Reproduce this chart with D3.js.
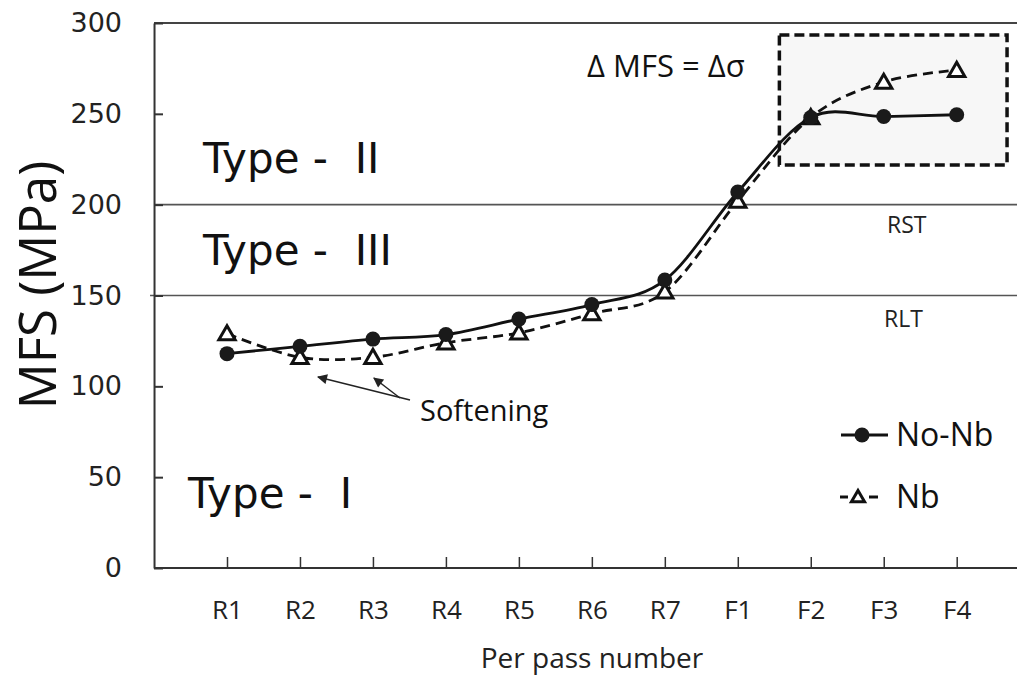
<!DOCTYPE html>
<html>
<head>
<meta charset="utf-8">
<script src="https://cdn.jsdelivr.net/npm/d3@7"></script>
<style>
  html, body { margin: 0; padding: 0; background: #fff; }
  svg { display: block; }
</style>
</head>
<body>
<svg id="chart" width="1017" height="682"></svg>
<script>
// Pass sequence: roughing (R) and finishing (F) passes
const categories = ["R1", "R2", "R3", "R4", "R5", "R6", "R7", "F1", "F2", "F3", "F4"];
// Mean flow stress per pass, MPa
const noNb = [118, 122, 126, 128.5, 137, 145, 158.5, 207, 248, 248.5, 249.5];
const nb   = [129, 116, 116, 124, 129.5, 140, 152, 202, 248, 267.5, 274];
const yTicks = [0, 50, 100, 150, 200, 250, 300];
// Critical temperatures as stress levels
const rlt = 150, rst = 200;

const svg = d3.select("#chart");
const W = 1017;

// Category positions sit one slot in from each plot edge
const x = d3.scalePoint().domain(categories).range([227, 956.7]);
const step = x.step();
const left = x("R1") - step;
const y = d3.scaleLinear().domain([0, 300]).range([568, 23]);

// Highlighted region around the finishing passes
const boxX0 = x("F2") - 0.43 * step, boxX1 = x("F4") + 0.69 * step;
const boxY0 = 293.4, boxY1 = 221.8;
svg.append("rect")
  .attr("x", boxX0).attr("y", y(boxY0))
  .attr("width", boxX1 - boxX0).attr("height", y(boxY1) - y(boxY0))
  .attr("fill", "#f7f7f7")
  .attr("stroke", "#111").attr("stroke-width", 3.5)
  .attr("stroke-dasharray", "10,5");

// Plot frame: top border
svg.append("line")
  .attr("x1", left).attr("x2", W).attr("y1", y(300)).attr("y2", y(300))
  .attr("stroke", "#444").attr("stroke-width", 2);

// Reference lines
svg.append("line")
  .attr("x1", left).attr("x2", W).attr("y1", y(rst)).attr("y2", y(rst))
  .attr("stroke", "#555").attr("stroke-width", 1.6);
svg.append("line")
  .attr("x1", left - 4).attr("x2", W).attr("y1", y(rlt)).attr("y2", y(rlt))
  .attr("stroke", "#555").attr("stroke-width", 1.6);

// Y axis
const yAxis = svg.append("g")
  .attr("transform", `translate(${left},0)`)
  .call(d3.axisLeft(y).tickValues(yTicks).tickSizeInner(-9).tickSizeOuter(0).tickPadding(32));
yAxis.select(".domain").attr("stroke", "#333").attr("stroke-width", 2);
yAxis.selectAll(".tick line").attr("stroke", "#333").attr("stroke-width", 2);
yAxis.selectAll(".tick text")
  .attr("font-family", "DejaVu Sans").attr("font-size", 27).attr("fill", "#222");

// X axis
const xAxis = svg.append("g")
  .attr("transform", `translate(0,${y(0)})`)
  .call(d3.axisBottom(x).tickSizeInner(-11).tickSizeOuter(0).tickPadding(33));
xAxis.select(".domain").attr("d", `M${left},0H${W}`).attr("stroke", "#333").attr("stroke-width", 2);
xAxis.selectAll(".tick line").attr("stroke", "#333").attr("stroke-width", 1.5);
xAxis.selectAll(".tick text")
  .attr("font-family", "Open Sans").attr("font-size", 26).attr("fill", "#222");

// Axis titles
svg.append("text")
  .attr("x", 592).attr("y", 668)
  .attr("text-anchor", "middle")
  .attr("font-family", "Open Sans").attr("font-size", 28).attr("fill", "#222")
  .text("Per pass number");
svg.append("text")
  .attr("transform", "translate(56,285) rotate(-90)")
  .attr("text-anchor", "middle")
  .attr("font-family", "Open Sans").attr("font-size", 51).attr("fill", "#111")
  .text("MFS (MPa)");

// Region labels
const typeLabels = [
  { t: "Type -  II", x: 203, y: 173 },
  { t: "Type -  III", x: 203, y: 265 },
  { t: "Type -  I", x: 188, y: 508 }
];
svg.selectAll("text.type").data(typeLabels).join("text")
  .attr("class", "type")
  .attr("x", d => d.x).attr("y", d => d.y)
  .attr("font-family", "DejaVu Sans").attr("font-size", 42).attr("fill", "#111")
  .style("white-space", "pre")
  .text(d => d.t);

svg.append("text")
  .attr("x", 887).attr("y", 233)
  .attr("font-family", "Open Sans").attr("font-size", 23).attr("fill", "#222")
  .text("RST");
svg.append("text")
  .attr("x", 884).attr("y", 327)
  .attr("font-family", "Open Sans").attr("font-size", 23).attr("fill", "#222")
  .text("RLT");

svg.append("text")
  .attr("x", 587).attr("y", 77)
  .attr("font-family", "Open Sans").attr("font-size", 31).attr("fill", "#111")
  .text("Δ MFS = Δσ");

// Softening annotation with arrows
const defs = svg.append("defs");
defs.append("marker")
  .attr("id", "arrow").attr("viewBox", "0 0 10 10")
  .attr("refX", 9).attr("refY", 5)
  .attr("markerWidth", 12).attr("markerHeight", 10)
  .attr("markerUnits", "userSpaceOnUse")
  .attr("orient", "auto")
  .append("path").attr("d", "M0,0L10,5L0,10Z").attr("fill", "#222");

const arrows = [
  { x1: 410, y1: 400, x2: x("R2") + 18, y2: 377 },
  { x1: 400, y1: 398, x2: x("R3") + 1, y2: 378 }
];
svg.selectAll("line.arrow").data(arrows).join("line")
  .attr("class", "arrow")
  .attr("x1", d => d.x1).attr("y1", d => d.y1)
  .attr("x2", d => d.x2).attr("y2", d => d.y2)
  .attr("stroke", "#222").attr("stroke-width", 1.5)
  .attr("marker-end", "url(#arrow)");
svg.append("text")
  .attr("x", 420).attr("y", 421)
  .attr("font-family", "Open Sans").attr("font-size", 29).attr("fill", "#111")
  .text("Softening");

// Series lines (smoothed)
const line = d3.line()
  .x((d, i) => x(categories[i]))
  .y(d => y(d))
  .curve(d3.curveCatmullRom.alpha(0));

svg.append("path").datum(nb)
  .attr("d", line)
  .attr("fill", "none").attr("stroke", "#111").attr("stroke-width", 2.8)
  .attr("stroke-dasharray", "10,6");

const tri = d3.symbol().type(d3.symbolTriangle).size(115);
svg.selectAll("path.nb").data(nb).join("path")
  .attr("class", "nb")
  .attr("transform", (d, i) => `translate(${x(categories[i])},${y(d) + 1.5})`)
  .attr("d", tri)
  .attr("fill", "#fff").attr("stroke", "#111").attr("stroke-width", 3);

svg.append("path").datum(noNb)
  .attr("d", line)
  .attr("fill", "none").attr("stroke", "#111").attr("stroke-width", 2.8);

svg.selectAll("circle.nonb").data(noNb).join("circle")
  .attr("class", "nonb")
  .attr("cx", (d, i) => x(categories[i]))
  .attr("cy", d => y(d))
  .attr("r", 7.5)
  .attr("fill", "#1a1a1a");

// Legend
const lg = svg.append("g");
lg.append("line").attr("x1", 841).attr("x2", 888).attr("y1", 435).attr("y2", 435)
  .attr("stroke", "#111").attr("stroke-width", 2.8);
lg.append("circle").attr("cx", 862).attr("cy", 435).attr("r", 7.5).attr("fill", "#1a1a1a");
lg.append("text").attr("x", 896).attr("y", 446)
  .attr("font-family", "Open Sans").attr("font-size", 32).attr("fill", "#111")
  .text("No-Nb");

lg.append("line").attr("x1", 840).attr("x2", 848).attr("y1", 497).attr("y2", 497)
  .attr("stroke", "#111").attr("stroke-width", 3);
lg.append("line").attr("x1", 869).attr("x2", 878).attr("y1", 497).attr("y2", 497)
  .attr("stroke", "#111").attr("stroke-width", 3);
lg.append("path")
  .attr("transform", "translate(858,498)")
  .attr("d", d3.symbol().type(d3.symbolTriangle).size(75))
  .attr("fill", "#fff").attr("stroke", "#111").attr("stroke-width", 3);
lg.append("text").attr("x", 896).attr("y", 508)
  .attr("font-family", "Open Sans").attr("font-size", 32).attr("fill", "#111")
  .text("Nb");
</script>
</body>
</html>
